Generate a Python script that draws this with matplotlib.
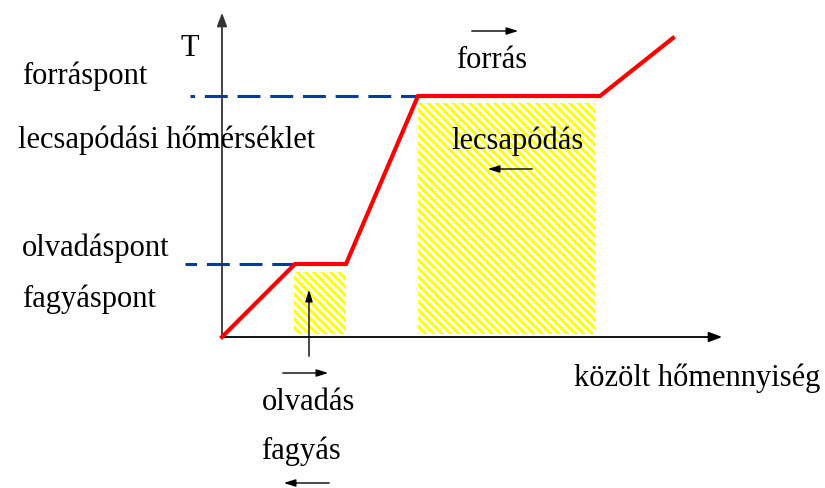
import matplotlib.pyplot as plt
from matplotlib.patches import Rectangle

plt.rcParams['font.family'] = ['Liberation Serif', 'DejaVu Serif']
plt.rcParams['hatch.linewidth'] = 2.1

# heating curve (heat supplied, temperature), origin at the axes crossing
heat = [0, 73, 124, 196, 378, 451]
temp = [0, 73, 73, 241, 241, 299]
t_melt = 73
t_boil = 241

# latent heat regions: (start, end, top)
melt_box = (72, 124, 65)
boil_box = (196, 373, 234)

left_labels = ['forráspont', 'lecsapódási hőmérséklet', 'olvadáspont', 'fagyáspont']
left_y = [261, 197, 89, 38]

fig = plt.figure(figsize=(8.25, 4.88), dpi=100)
ax = fig.add_axes([0, 0, 1, 1])
ax.set_xlim(-222, 603)
ax.set_ylim(-151, 337)
ax.axis('off')

# axes arrows
ax.annotate('', xy=(0, 327), xytext=(0, 0),
            arrowprops=dict(arrowstyle='-|>,head_length=0.8,head_width=0.3', color='#333333', lw=1.3))
ax.annotate('', xy=(503, 0), xytext=(0, 0),
            arrowprops=dict(arrowstyle='-|>,head_length=0.8,head_width=0.3', color='black', lw=1.3))

# hatched regions
for x0, x1, top in [melt_box, boil_box]:
    ax.add_patch(Rectangle((x0, 3), x1 - x0, top - 3, fill=False, hatch='\\\\\\\\',
                           edgecolor='#ffff00', lw=0, zorder=1))

# dashed reference lines
ax.plot([-37, heat[1]], [t_melt, t_melt], color='#0a3a9a', lw=2.2,
        linestyle=(3.7, (7.5, 3.2)), zorder=2)
ax.plot([-32, heat[3]], [t_boil, t_boil], color='#0a3a9a', lw=2.2,
        linestyle=(6.0, (7.5, 3.2)), zorder=2)

ax.plot(heat, temp, color='#ff0000', lw=3, solid_joinstyle='miter', zorder=3)

# labels
fs = 22
ax.text(-32, 289, 'T', fontsize=fs, ha='center', va='center')
for lab, y in zip(left_labels, left_y):
    ax.text(-204 if 'lecsap' in lab else -200, y, lab, fontsize=fs, ha='left', va='center')
ax.text(475, -41, 'közölt hőmennyiség', fontsize=fs, ha='center', va='center')
ax.text(270, 276, 'forrás', fontsize=fs, ha='center', va='center')
ax.text(295, 196, 'lecsapódás', fontsize=fs, ha='center', va='center')
ax.text(87, -66, 'olvadás', fontsize=fs, ha='center', va='center')
ax.text(79, -114, 'fagyás', fontsize=fs, ha='center', va='center')

# direction arrows
aprops = dict(arrowstyle='-|>,head_length=0.7,head_width=0.22', color='black', lw=1.0)
ax.annotate('', xy=(87, 50), xytext=(87, -22), arrowprops=aprops)
ax.annotate('', xy=(109, -36), xytext=(58, -36), arrowprops=aprops)
ax.annotate('', xy=(59, -146), xytext=(110, -146), arrowprops=aprops)
ax.annotate('', xy=(299, 306), xytext=(247, 306), arrowprops=aprops)
ax.annotate('', xy=(263, 168), xytext=(313, 168), arrowprops=aprops)

fig.savefig('out.png', dpi=100)
